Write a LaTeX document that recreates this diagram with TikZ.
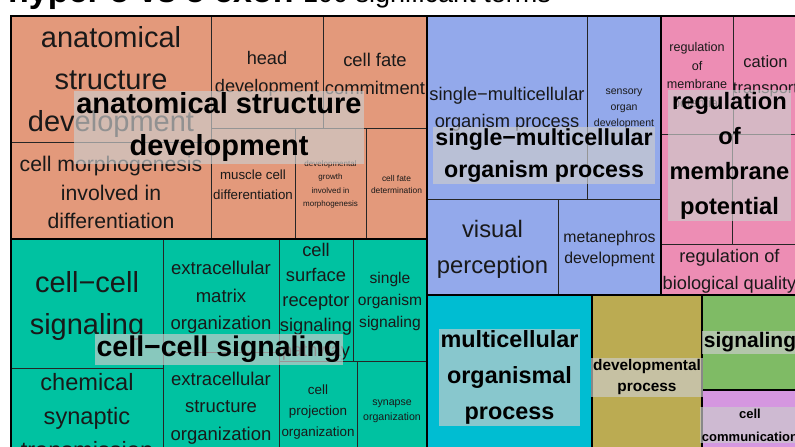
\documentclass[tikz,border=0pt]{standalone}
\usepackage{fontspec}
\setmainfont{Liberation Sans}
\usepackage{xcolor}
\usepackage{tikz}
\usetikzlibrary{positioning}
\definecolor{anatorange}{HTML}{E3997B}
\definecolor{cellteal}{HTML}{00C2A1}
\definecolor{singleblue}{HTML}{93A9EB}
\definecolor{membpink}{HTML}{ED8DB4}
\definecolor{multicyan}{HTML}{00BDD2}
\definecolor{devolive}{HTML}{BBAB52}
\definecolor{siggreen}{HTML}{7FBB65}
\definecolor{commpurple}{HTML}{D597E0}
\newcommand{\tsize}[2]{\fontsize{#1}{#2}\selectfont}
\tikzstyle{tile} = [rectangle, draw=black!85, line width=0.9pt,
    inner sep=0pt, outer sep=0pt, anchor=north west]
\tikzstyle{tiletext} = [align=center, inner sep=0pt, text=black!90]
\tikzstyle{grplabel} = [rectangle, fill=black!20, fill opacity=0.67,
    text opacity=1, align=center, inner sep=2pt]
\tikzstyle{grpline} = [draw=black, line width=1.8pt]
\tikzset{fs/.style 2 args={font=\tsize{#1}{#2}, yshift={-0.1*#1}}}

\begin{document}
\begin{tikzpicture}[x=1pt, y=-1pt]
    \useasboundingbox (0,0) rectangle (795,447);
    \clip (0,0) rectangle (795,447);
    % title, cut off at the top
    \node [anchor=base west, inner sep=0pt, font=\bfseries\tsize{34}{40}] (ttl) at (8,2.5) {hyper 5 vs 5 exon};
    \node [anchor=base west, inner sep=0pt, font=\tsize{27}{32}] (subttl) at (303,2.5) {100 significant terms};

    % Place tiles
    \node [tile, fill=anatorange, minimum width=200, minimum height=126] (tilea) at (11,16) {};
    \node [tile, fill=anatorange, minimum width=112, minimum height=112] (tileb) at (tilea.north east) {};
    \node [tile, fill=anatorange, minimum width=104, minimum height=112] (tilec) at (tileb.north east) {};
    \node [tile, fill=anatorange, minimum width=200, minimum height=97] (tiled) at (tilea.south west) {};
    \node [tile, fill=anatorange, minimum width=84, minimum height=111] (tilee) at (tileb.south west) {};
    \node [tile, fill=anatorange, minimum width=71, minimum height=111] (tilef) at (tilee.north east) {};
    \node [tile, fill=anatorange, minimum width=61, minimum height=111] (tileg) at (tilef.north east) {};

    \node [tile, fill=cellteal, minimum width=152, minimum height=129] (tileh) at (tiled.south west) {};
    \node [tile, fill=cellteal, minimum width=152, minimum height=92] (tilei) at (tileh.south west) {};
    \node [tile, fill=cellteal, minimum width=116, minimum height=113] (tilej) at (tileh.north east) {};
    \node [tile, fill=cellteal, minimum width=116, minimum height=108] (tilek) at (tilej.south west) {};
    \node [tile, fill=cellteal, minimum width=74, minimum height=122] (tilel) at (tilej.north east) {};
    \node [tile, fill=cellteal, minimum width=74, minimum height=122] (tilem) at (tilel.north east) {};
    \node [tile, fill=cellteal, minimum width=78, minimum height=99] (tilen) at (tilel.south west) {};
    \node [tile, fill=cellteal, minimum width=70, minimum height=99] (tileo) at (tilen.north east) {};

    \node [tile, fill=singleblue, minimum width=160, minimum height=183] (tilep) at (tilec.north east) {};
    \node [tile, fill=singleblue, minimum width=74, minimum height=183] (tileq) at (tilep.north east) {};
    \node [tile, fill=singleblue, minimum width=131, minimum height=96] (tiler) at (tilep.south west) {};
    \node [tile, fill=singleblue, minimum width=103, minimum height=96] (tiles) at (tiler.north east) {};

    \node [tile, fill=membpink, minimum width=72, minimum height=118] (tilet) at (tileq.north east) {};
    \node [tile, fill=membpink, minimum width=65, minimum height=118] (tileu) at (tilet.north east) {};
    \node [tile, fill=membpink, minimum width=71, minimum height=110] (tilev) at (tilet.south west) {};
    \node [tile, fill=membpink, minimum width=66, minimum height=110] (tilew) at (tilev.north east) {};
    \node [tile, fill=membpink, minimum width=137, minimum height=51] (tilex) at (tilev.south west) {};

    \node [tile, fill=multicyan, minimum width=165, minimum height=165] (tiley) at (tiler.south west) {};
    \node [tile, fill=devolive, minimum width=110, minimum height=165] (tilez) at (tiley.north east) {};
    \node [tile, fill=siggreen, minimum width=96, minimum height=95] (tilesig) at (tilez.north east) {};
    \node [tile, fill=commpurple, minimum width=96, minimum height=70] (tilecom) at (tilesig.south west) {};

    % tile texts
    \node [tiletext, fs={29}{42}] (txta) at (tilea) {anatomical\\structure\\development};
    \node [tiletext, fs={18.2}{28}] (txtb) at (tileb) {head\\development};
    \node [tiletext, fs={18.4}{28}] (txtc) at (tilec) {cell fate\\commitment};
    \node [tiletext, fs={21.2}{28.5}] (txtd) at (tiled) {cell morphogenesis\\involved in\\differentiation};
    \node [tiletext, fs={13.3}{20}] (txte) at (tilee) {muscle cell\\differentiation};
    \node [tiletext, fs={8}{13.5}] (txtf) at (tilef) {developmental\\growth\\involved in\\morphogenesis};
    \node [tiletext, fs={8.4}{12.5}] (txtg) at (tileg) {cell fate\\determination};
    \node [tiletext, fs={29}{42}] (txth) at (tileh) {cell−cell\\signaling};
    \node [tiletext, fs={23.6}{34}] (txti) at (tilei) {chemical\\synaptic\\transmission};
    \node [tiletext, fs={18.5}{27.5}] (txtj) at (tilej) {extracellular\\matrix\\organization};
    \node [tiletext, fs={18.5}{27.5}] (txtk) at (tilek) {extracellular\\structure\\organization};
    \node [tiletext, fs={18.3}{25}] (txtl) at (tilel) {cell\\surface\\receptor\\signaling\\pathway};
    \node [tiletext, fs={15.6}{22}] (txtm) at (tilem) {single\\organism\\signaling};
    \node [tiletext, fs={13.4}{21}] (txtn) at (tilen) {cell\\projection\\organization};
    \node [tiletext, fs={10.6}{15}] (txto) at (tileo) {synapse\\organization};
    \node [tiletext, fs={18.3}{27}] (txtp) at (tilep) {single−multicellular\\organism process};
    \node [tiletext, fs={10.5}{16}] (txtq) at (tileq) {sensory\\organ\\development};
    \node [tiletext, fs={23.8}{36}] (txtr) at (tiler) {visual\\perception};
    \node [tiletext, fs={15.8}{21}] (txts) at (tiles) {metanephros\\development};
    \node [tiletext, fs={12.6}{18.6}] (txtt) at (tilet) {regulation\\of\\membrane\\potential};
    \node [tiletext, fs={16.5}{26}] (txtu) at (tileu) {cation\\transport};
    \node [tiletext, fs={18.2}{27}] (txtx) at (tilex) {regulation of\\biological quality};

    % group borders
    \draw [grpline] (tilea.north west) rectangle (tileg.south east);
    \draw [grpline] (tileh.north west) rectangle (tileo.south east);
    \draw [grpline] (tilep.north west) rectangle (tiles.south east);
    \draw [grpline] (tilet.north west) rectangle (tilex.south east);
    \draw [grpline] (tiley.north west) rectangle (tiley.south east);
    \draw [grpline] (tilez.north west) rectangle (tilez.south east);
    \draw [grpline] (tilesig.north west) rectangle (tilesig.south east);
    \draw [grpline] (tilecom.north west) rectangle (tilecom.south east);

    % group labels
    \node [grplabel, font=\bfseries\tsize{29}{42}] (lbla) at (219,127.5) {anatomical structure\\development};
    \node [grplabel, font=\bfseries\tsize{28.5}{34}] (lblb) at (219,349.5) {cell−cell signaling};
    \node [grplabel, font=\bfseries\tsize{23.2}{32}] (lblc) at (544,155.5) {single−multicellular\\organism process};
    \node [grplabel, font=\bfseries\tsize{23.7}{35}] (lbld) at (729.5,155.5) {regulation\\of\\membrane\\potential};
    \node [grplabel, font=\bfseries\tsize{23.4}{36}] (lble) at (tiley) {multicellular\\organismal\\process};
    \node [grplabel, font=\bfseries\tsize{15.4}{21}] (lblf) at (tilez) {developmental\\process};
    \node [grplabel, font=\bfseries\tsize{21}{26}] (lblg) at (tilesig) {signaling};
    \node [grplabel, font=\bfseries\tsize{13}{23}] (lblh) at (tilecom) {cell\\communication};
\end{tikzpicture}
\end{document}
